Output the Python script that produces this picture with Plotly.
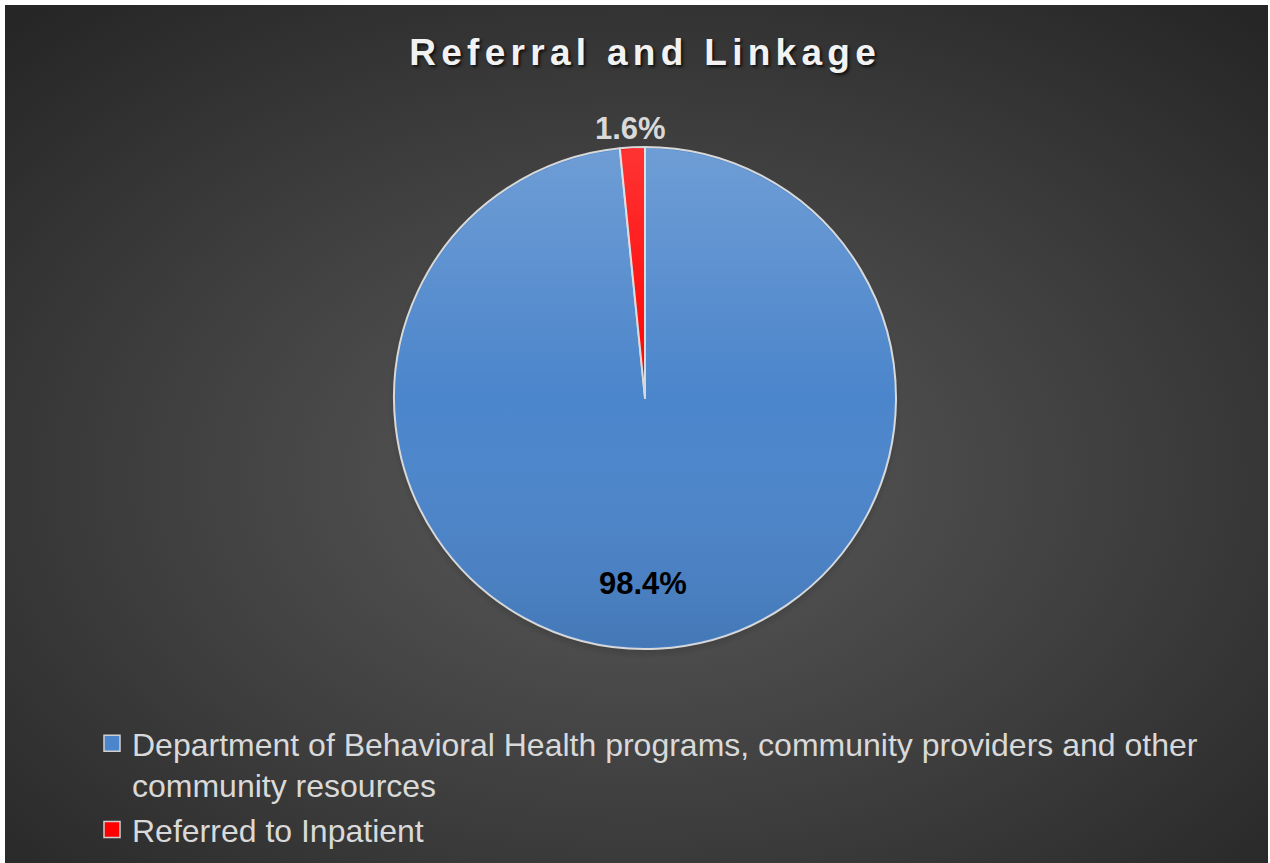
import base64
import plotly.graph_objects as go

# Referral outcomes (percent of referrals)
categories = [
    "Department of Behavioral Health programs, community providers and other<br>community resources",
    "Referred to Inpatient",
]
shares = [98.4, 1.6]
slice_colors = ["#4b85cb", "#ff0000"]

W, H = 1270, 863
# chart frame inside the page (white strip on top/left/right)
FX0, FY0, FX1, FY1 = 5, 5, 1268, 863
# pie geometry in pixels
CX, CY, R = 645, 398, 251
FONT = "Liberation Sans, Arial, sans-serif"


def svg_uri(svg):
    return "data:image/svg+xml;base64," + base64.b64encode(svg.encode()).decode()


bg_svg = f"""<svg xmlns='http://www.w3.org/2000/svg' width='{FX1-FX0}' height='{FY1-FY0}'>
<defs><radialGradient id='g' cx='0.5' cy='0.55' r='0.72'>
<stop offset='0' stop-color='#5a5a5a'/>
<stop offset='0.55' stop-color='#3e3e3e'/>
<stop offset='1' stop-color='#262626'/>
</radialGradient>
<radialGradient id='sh' cx='0.5' cy='0.5' r='0.5'>
<stop offset='0.9' stop-color='#000000' stop-opacity='0.35'/>
<stop offset='1' stop-color='#000000' stop-opacity='0'/>
</radialGradient></defs>
<rect width='100%' height='100%' fill='url(#g)'/>
<circle cx='{CX-FX0}' cy='{CY-FY0+4}' r='{R+6}' fill='url(#sh)'/></svg>"""

shade_svg = f"""<svg xmlns='http://www.w3.org/2000/svg' width='{2*R}' height='{2*R}'>
<defs><linearGradient id='s' x1='0' y1='0' x2='0' y2='1'>
<stop offset='0' stop-color='#ffffff' stop-opacity='0.2'/>
<stop offset='0.5' stop-color='#ffffff' stop-opacity='0'/>
<stop offset='1' stop-color='#000000' stop-opacity='0.1'/>
</linearGradient></defs>
<circle cx='{R}' cy='{R}' r='{R-1.5}' fill='url(#s)'/></svg>"""

fig = go.Figure()
fig.add_trace(
    go.Pie(
        labels=categories,
        values=shares,
        sort=False,
        direction="clockwise",
        rotation=0,
        marker=dict(colors=slice_colors, line=dict(color="#d8d8d8", width=2)),
        textinfo="none",
        hoverinfo="label+percent",
        showlegend=False,
        domain=dict(
            x=[(CX - R) / W, (CX + R) / W],
            y=[1 - (CY + R) / H, 1 - (CY - R) / H],
        ),
    )
)

# legend entries with larger square swatches
for name, color in zip(categories, slice_colors):
    fig.add_trace(
        go.Scatter(
            x=[None], y=[None], mode="markers", name=name,
            marker=dict(symbol="square", size=16, color=color,
                        line=dict(color="#d0d0d0", width=1.5)),
            showlegend=True, hoverinfo="skip",
        )
    )

fig.add_layout_image(
    source=svg_uri(bg_svg), xref="paper", yref="paper",
    x=FX0 / W, y=1 - FY0 / H, sizex=(FX1 - FX0) / W, sizey=(FY1 - FY0) / H,
    xanchor="left", yanchor="top", sizing="stretch", layer="below",
)
fig.add_layout_image(
    source=svg_uri(shade_svg), xref="paper", yref="paper",
    x=(CX - R) / W, y=1 - (CY - R) / H, sizex=2 * R / W, sizey=2 * R / H,
    xanchor="left", yanchor="top", sizing="stretch", layer="above",
)

fig.add_annotation(
    text=f"<b>{shares[0]:.1f}%</b>", x=643 / W, y=1 - 583 / H,
    xref="paper", yref="paper", showarrow=False,
    xanchor="center", yanchor="middle",
    font=dict(family=FONT, size=31, color="#000000"),
)
fig.add_annotation(
    text=f"<b>{shares[1]:.1f}%</b>", x=630 / W, y=1 - 128 / H,
    xref="paper", yref="paper", showarrow=False,
    xanchor="center", yanchor="middle",
    font=dict(family=FONT, size=31, color="#d9d9d9"),
)

fig.update_layout(
    width=W, height=H,
    margin=dict(l=0, r=0, t=0, b=0),
    paper_bgcolor="#ffffff",
    plot_bgcolor="rgba(0,0,0,0)",
    xaxis=dict(visible=False),
    yaxis=dict(visible=False),
    title=dict(
        text="<b>Referral and Linkage</b>",
        x=0.508, xanchor="center", y=1 - 52 / H, yanchor="middle",
        font=dict(family=FONT, size=37, color="#f2f2f2",
                  shadow="2px 2px 3px rgba(0,0,0,0.7)"),
    ),
    showlegend=True,
    legend=dict(
        x=92 / W, xanchor="left", y=1 - 716 / H, yanchor="top",
        font=dict(family=FONT, size=32, color="#d9d9d9"),
        bgcolor="rgba(0,0,0,0)", itemsizing="trace", valign="top",
    ),
)

fig.write_html(
    "out.html",
    post_script="document.querySelectorAll('.gtitle').forEach(function(e){e.style.letterSpacing='5.3px';});",
)
